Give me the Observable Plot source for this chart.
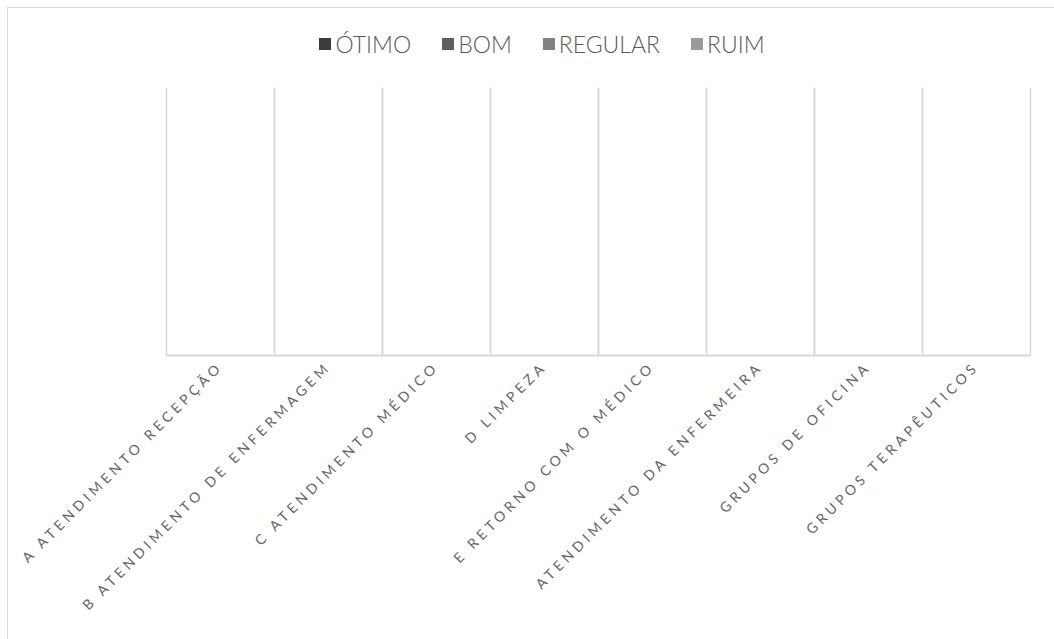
<!DOCTYPE html>
<html><head><meta charset="utf-8">
<script src="https://cdn.jsdelivr.net/npm/d3@7"></script>
<script src="https://cdn.jsdelivr.net/npm/@observablehq/plot@0.6"></script>
<style>
html,body{margin:0;padding:0;background:#fff;}
#wrap{position:relative;width:1054px;height:639px;overflow:hidden;}
#border{position:absolute;left:7px;top:7px;width:1100px;height:700px;border-left:1px solid #d9d9d9;border-top:1px solid #d9d9d9;}
#legend{position:absolute;top:30px;left:0;width:1084px;display:flex;justify-content:center;gap:31px;font-family:Lato,"Open Sans",sans-serif;font-weight:300;font-size:23px;color:#595959;}
#legend span.item{display:flex;align-items:center;}
#legend span.sw{display:inline-block;width:12px;height:12px;margin-right:4px;}
#chart{position:absolute;left:0;top:0;}
</style></head>
<body>
<div id="wrap"><div id="border"></div><div id="legend"></div><div id="chart"></div></div>
<script>
const categorias = ["A ATENDIMENTO RECEPÇÃO","B ATENDIMENTO DE ENFERMAGEM","C ATENDIMENTO MÉDICO","D LIMPEZA","E RETORNO COM O MÉDICO","ATENDIMENTO DA ENFERMEIRA","GRUPOS DE OFICINA","GRUPOS TERAPÊUTICOS"];
const series = ["ÓTIMO","BOM","REGULAR","RUIM"];
const cores = ["#3b3b3b","#5e5e5e","#838383","#9b9b9b"];
// No bars are visible in the reference: all values are empty (zero)
const otimo   = [0,0,0,0,0,0,0,0];
const bom     = [0,0,0,0,0,0,0,0];
const regular = [0,0,0,0,0,0,0,0];
const ruim    = [0,0,0,0,0,0,0,0];
const valores = [otimo,bom,regular,ruim];

const dados = [];
categorias.forEach((c,i)=>series.forEach((s,j)=>dados.push({categoria:c,serie:s,valor:valores[j][i]})));

const legend = document.getElementById("legend");
series.forEach((s,j)=>{
  const it=document.createElement("span");it.className="item";
  const sw=document.createElement("span");sw.className="sw";sw.style.background=cores[j];
  it.appendChild(sw);it.appendChild(document.createTextNode(s));legend.appendChild(it);
});

const chart = Plot.plot({
  width:1054, height:639,
  marginTop:88, marginBottom:284, marginLeft:164, marginRight:23,
  style:{fontFamily:"Lato,'Open Sans',sans-serif",fontSize:"14px",color:"#666666",letterSpacing:"4px",background:"transparent"},
  fx:{domain:categorias, padding:0, label:null, tickRotate:-45, tickSize:0, tickPadding:9},
  x:{domain:series, axis:null, paddingInner:0.1, paddingOuter:0.3},
  y:{domain:[0,1], axis:null},
  color:{domain:series, range:cores},
  marks:[
    Plot.frame({anchor:"left", stroke:"#d9d9d9", strokeWidth:1.5, strokeOpacity:1}),
    Plot.frame({anchor:"right", stroke:"#d9d9d9", strokeWidth:1.5, strokeOpacity:1}),
    Plot.barY(dados,{fx:"categoria", x:"serie", y:"valor", fill:"serie"}),
    Plot.ruleY([0],{stroke:"#d9d9d9", strokeWidth:2})
  ]
});
document.getElementById("chart").appendChild(chart);
</script>
</body></html>
